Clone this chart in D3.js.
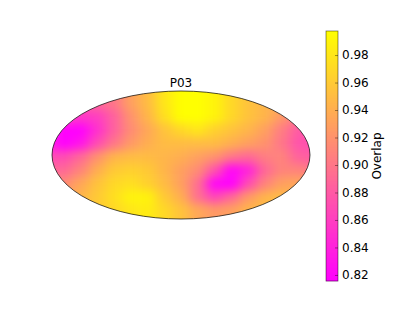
<!DOCTYPE html>
<html><head><meta charset="utf-8">
<style>html,body{margin:0;padding:0;background:#fff}svg{display:block}text{font-family:"DejaVu Sans",sans-serif;fill:#000}</style>
<script src="https://cdn.jsdelivr.net/npm/d3@7"></script></head><body>
<svg id="c" width="415" height="312"></svg>
<script>
const chartTitle = "P03";
const colorbarLabel = "Overlap";
const colorTicks = [0.82,0.84,0.86,0.88,0.90,0.92,0.94,0.96,0.98];
const colorDomain = [0.8156,0.9975];
const xCenters = [-1.04,-0.91,-0.78,-0.65,-0.52,-0.39,-0.26,-0.13,0,0.13,0.26,0.39,0.52,0.65,0.78,0.91,1.04];
const yCenters = [0.81,0.60,0.39,0.18,-0.03,-0.24,-0.45,-0.66,-0.86];
const overlap = [
[.88,.88,.885,.89,.90,.93,.95,.98,.998,.998,.99,.97,.955,.945,.935,.92,.90],
[.87,.87,.855,.86,.885,.92,.945,.975,.998,.998,.99,.97,.955,.945,.925,.90,.885],
[.85,.815,.815,.85,.885,.915,.935,.955,.97,.98,.965,.955,.945,.93,.905,.88,.87],
[.84,.815,.83,.87,.90,.925,.94,.95,.95,.95,.95,.94,.93,.92,.90,.875,.87],
[.87,.87,.89,.92,.945,.95,.95,.945,.94,.93,.92,.90,.89,.905,.91,.885,.88],
[.89,.89,.91,.94,.96,.965,.96,.945,.93,.915,.875,.82,.84,.89,.91,.91,.90],
[.905,.915,.935,.955,.97,.975,.965,.95,.93,.895,.82,.815,.87,.91,.93,.935,.92],
[.92,.93,.945,.96,.975,.99,.99,.96,.94,.895,.865,.89,.925,.945,.95,.94,.93],
[.93,.94,.95,.96,.97,.98,.985,.97,.955,.935,.925,.93,.945,.95,.95,.94,.93]
];

const svg = d3.select("#c");
const x = d3.scaleLinear().domain([-1,1]).range([52,310]);
const y = d3.scaleLinear().domain([-1,1]).range([219,91]);
const spring = t => `rgb(255,${Math.round(255*t)},${Math.round(255*(1-t))})`;
const color = d3.scaleSequential(spring).domain(colorDomain).clamp(true);

const defs = svg.append("defs");
defs.append("clipPath").attr("id","ell").append("ellipse")
  .attr("cx",x(0)).attr("cy",y(0)).attr("rx",x(1)-x(0)).attr("ry",y(0)-y(1));
const blur = defs.append("filter").attr("id","soft").attr("filterUnits","userSpaceOnUse")
  .attr("x",0).attr("y",0).attr("width",415).attr("height",312)
  .attr("color-interpolation-filters","sRGB");
blur.append("feGaussianBlur").attr("stdDeviation","6 5");

const cw = Math.abs(x(xCenters[1])-x(xCenters[0])), ch = Math.abs(y(yCenters[1])-y(yCenters[0]));
const cells = overlap.flatMap((row,j)=>row.map((v,i)=>({i,j,v})));
svg.append("g").attr("clip-path","url(#ell)")
  .append("g").attr("filter","url(#soft)")
  .selectAll("rect").data(cells).join("rect")
  .attr("x",d=>x(xCenters[d.i])-cw/2-(d.i==0?40:0))
  .attr("y",d=>y(yCenters[d.j])-ch/2-(d.j==0?40:0))
  .attr("width",d=>cw+0.5+((d.i==0||d.i==16)?40:0))
  .attr("height",d=>ch+0.5+((d.j==0||d.j==8)?40:0))
  .attr("fill",d=>color(d.v));
svg.append("ellipse").attr("cx",x(0)).attr("cy",y(0)).attr("rx",x(1)-x(0)).attr("ry",y(0)-y(1))
  .attr("fill","none").attr("stroke","#000").attr("stroke-width",0.7);
svg.append("text").attr("x",x(0)).attr("y",87).attr("text-anchor","middle").attr("font-size",12).text(chartTitle);

// colorbar
const cb = d3.scaleLinear().domain(colorDomain).range([281,31]);
const cbX = 326, cbW = 12;
svg.append("g").selectAll("rect").data(d3.range(281,31,-1)).join("rect")
  .attr("x",cbX).attr("width",cbW).attr("y",d=>d-1).attr("height",1.2)
  .attr("fill",d=>color(cb.invert(d-0.5)));
svg.append("rect").attr("x",cbX).attr("y",31).attr("width",cbW).attr("height",250)
  .attr("fill","none").attr("stroke","#000").attr("stroke-opacity",0.55).attr("stroke-width",0.8);
const ax = d3.axisRight(cb).tickValues(colorTicks).tickFormat(d3.format(".2f")).tickSize(-3).tickPadding(6);
const g = svg.append("g").attr("transform",`translate(${cbX+cbW},0)`).call(ax);
g.select(".domain").remove();
g.selectAll("line").attr("stroke","#000").attr("stroke-opacity",0.5).attr("stroke-width",0.8);
g.selectAll("text").attr("font-size",12).attr("x",4).style("font-family",'"DejaVu Sans"');
svg.append("text").attr("transform","translate(381,156) rotate(-90)").attr("text-anchor","middle")
  .attr("font-size",12).text(colorbarLabel);
</script></body></html>
